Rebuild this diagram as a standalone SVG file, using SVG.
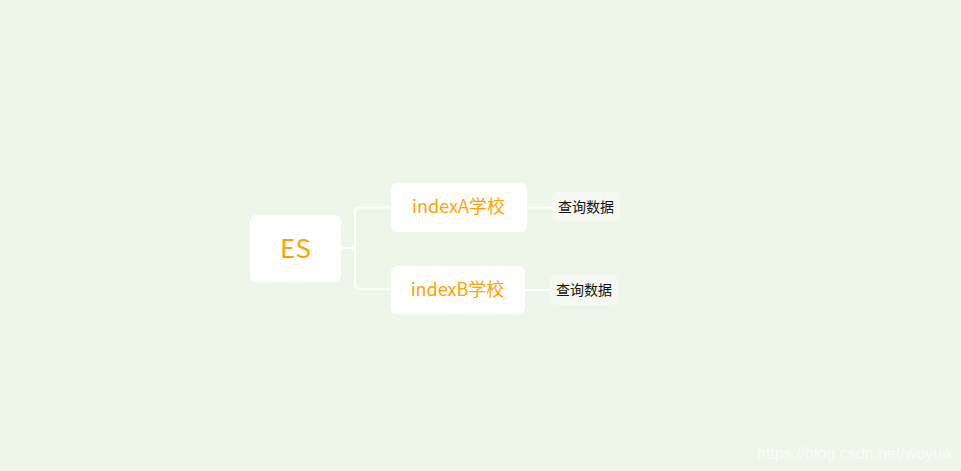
<svg xmlns="http://www.w3.org/2000/svg" width="961" height="471" viewBox="0 0 961 471">
<style>
.bg{fill:#EEF5E9}
.main{fill:#FFFFFF}
.sub{fill:#F5F9F1}
.conn{fill:none;stroke:#FFFFFF;stroke-width:2}
.t{font-family:"Noto Sans CJK SC","Noto Sans",sans-serif;text-anchor:middle}
.o{fill:#FFA200}
.k{fill:#111111}
.wm{font-family:"Liberation Sans",Arial,sans-serif;font-size:16px;fill:#FFFFFF;fill-opacity:0.75}
</style>
<rect class="bg" x="0" y="0" width="961" height="471"/>
<g id="connectors">
<path class="conn" d="M341 248 H355"/>
<path class="conn" d="M391 207.5 H360 Q355 207.5 355 212.5 V284 Q355 289 360 289 H391"/>
<path class="conn" d="M527 207.5 H552"/>
<path class="conn" d="M525 290 H550"/>
</g>
<g id="node-es">
<rect class="main" x="250" y="215" width="91" height="67" rx="6"/>
<text class="t o" x="295.5" y="257.5" font-size="26">ES</text>
</g>
<g id="node-indexA">
<rect class="main" x="391" y="183" width="136" height="49" rx="6"/>
<text class="t o" x="458.5" y="213" font-size="18">indexA学校</text>
</g>
<g id="node-indexB">
<rect class="main" x="391" y="266" width="134" height="48" rx="6"/>
<text class="t o" x="457.5" y="296" font-size="18">indexB学校</text>
</g>
<g id="node-queryA">
<rect class="sub" x="552" y="192" width="68" height="29" rx="5"/>
<text class="t k" x="586" y="211.5" font-size="14">查询数据</text>
</g>
<g id="node-queryB">
<rect class="sub" x="550" y="275" width="68" height="30" rx="5"/>
<text class="t k" x="584" y="294.5" font-size="14">查询数据</text>
</g>
<text class="wm" x="757" y="459">https://blog.csdn.net/woyuik</text>
</svg>
